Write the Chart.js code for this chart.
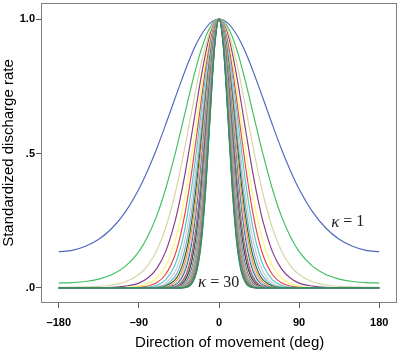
<!DOCTYPE html>
<html><head><meta charset="utf-8">
<script src="https://cdn.jsdelivr.net/npm/chart.js@4/dist/chart.umd.min.js"></script>
<style>html,body{margin:0;padding:0;background:#fff;}canvas{display:block;}</style>
</head><body>
<canvas id="c" width="400" height="354"></canvas>
<script>
// Direction of movement (deg), one half of each symmetric tuning curve
const angles = [0,5,10,15,20,25,30,35,40,45,50,60,70,80,90,105,120,135,150,165,180];
const kappas = [1,2,3,4,5,6,7,8,9,10,11,12,13,14,15,16,17,18,19,20,21,22,23,24,25,26,27,28,29,30];

// Standardized discharge rate for each kappa, at the angles above
const k01 = [1,.996,.985,.966,.941,.911,.875,.835,.791,.746,.700,.607,.518,.438,.368,.284,.223,.181,.155,.140,.135];
const k02 = [1,.992,.970,.934,.886,.829,.765,.696,.626,.557,.490,.368,.268,.192,.135,.081,.050,.033,.024,.020,.018];
const k03 = [1,.989,.955,.903,.835,.755,.669,.581,.496,.415,.342,.223,.139,.084,.050,.023,.011,.006,.004,.003,.002];
const k04 = [1,.985,.941,.873,.786,.687,.585,.485,.392,.310,.240,.135,.072,.037,.018,.007,.002,.001,.001,0,0];
const k05 = [1,.981,.927,.843,.740,.626,.512,.405,.310,.231,.168,.082,.037,.016,.007,.002,.001,0,0,0,0];
const k06 = [1,.977,.913,.815,.696,.570,.448,.338,.246,.172,.117,.050,.019,.007,.002,.001,0,0,0,0,0];
const k07 = [1,.974,.899,.788,.656,.519,.391,.282,.194,.129,.082,.030,.010,.003,.001,0,0,0,0,0,0];
const k08 = [1,.970,.886,.761,.617,.473,.342,.235,.154,.096,.057,.018,.005,.001,0,0,0,0,0,0,0];
const k09 = [1,.966,.872,.736,.581,.430,.300,.196,.122,.072,.040,.011,.003,.001,0,0,0,0,0,0,0];
const k10 = [1,.963,.859,.711,.547,.392,.262,.164,.096,.053,.028,.007,.001,0,0,0,0,0,0,0,0];
const k11 = [1,.959,.846,.687,.515,.357,.229,.137,.076,.040,.020,.004,.001,0,0,0,0,0,0,0,0];
const k12 = [1,.955,.833,.664,.485,.325,.200,.114,.060,.030,.014,.002,0,0,0,0,0,0,0,0,0];
const k13 = [1,.952,.821,.642,.457,.296,.175,.095,.048,.022,.010,.002,0,0,0,0,0,0,0,0,0];
const k14 = [1,.948,.808,.621,.430,.269,.153,.080,.038,.017,.007,.001,0,0,0,0,0,0,0,0,0];
const k15 = [1,.945,.796,.600,.405,.245,.134,.066,.030,.012,.005,.001,0,0,0,0,0,0,0,0,0];
const k16 = [1,.941,.784,.580,.381,.223,.117,.055,.024,.009,.003,0,0,0,0,0,0,0,0,0,0];
const k17 = [1,.937,.772,.560,.359,.203,.103,.046,.019,.007,.002,0,0,0,0,0,0,0,0,0,0];
const k18 = [1,.934,.761,.542,.338,.185,.090,.039,.015,.005,.002,0,0,0,0,0,0,0,0,0,0];
const k19 = [1,.930,.749,.523,.318,.169,.078,.032,.012,.004,.001,0,0,0,0,0,0,0,0,0,0];
const k20 = [1,.927,.738,.506,.299,.154,.069,.027,.009,.003,.001,0,0,0,0,0,0,0,0,0,0];
const k21 = [1,.923,.727,.489,.282,.140,.060,.022,.007,.002,.001,0,0,0,0,0,0,0,0,0,0];
const k22 = [1,.920,.716,.473,.265,.127,.052,.019,.006,.002,0,0,0,0,0,0,0,0,0,0,0];
const k23 = [1,.916,.705,.457,.250,.116,.046,.016,.005,.001,0,0,0,0,0,0,0,0,0,0,0];
const k24 = [1,.913,.694,.441,.235,.106,.040,.013,.004,.001,0,0,0,0,0,0,0,0,0,0,0];
const k25 = [1,.909,.684,.427,.221,.096,.035,.011,.003,.001,0,0,0,0,0,0,0,0,0,0,0];
const k26 = [1,.906,.674,.412,.208,.088,.031,.009,.002,0,0,0,0,0,0,0,0,0,0,0,0];
const k27 = [1,.902,.664,.399,.196,.080,.027,.008,.002,0,0,0,0,0,0,0,0,0,0,0,0];
const k28 = [1,.899,.654,.385,.185,.073,.023,.006,.001,0,0,0,0,0,0,0,0,0,0,0,0];
const k29 = [1,.896,.644,.372,.174,.066,.021,.005,.001,0,0,0,0,0,0,0,0,0,0,0,0];
const k30 = [1,.892,.634,.360,.164,.060,.018,.004,.001,0,0,0,0,0,0,0,0,0,0,0,0];

const curves = [k01,k02,k03,k04,k05,k06,k07,k08,k09,k10,k11,k12,k13,k14,k15,k16,k17,k18,k19,k20,k21,k22,k23,k24,k25,k26,k27,k28,k29,k30];

const lineColors = ['#4F67BE','#3EC05A','#D8D3A2','#863A87','#FBF873','#EF3F44','#55C6C9','#CCCCCC','#7AAAD5','#1A6A3C',
  '#F8981D','#DDBAF1','#2A6F86','#C4F2C4','#BB3F7F','#999999','#222222','#B6E7E8','#5E5C60','#F4BFB6',
  '#7D97C9','#A4D27C','#8D6B8E','#E8A86B','#6FA8A8','#B27070','#5E7B9A','#9C9C5A','#4F62B5','#2E9650'];

const xTicks = [-180,-90,0,90,180];
const xTickLabels = ['\u2013180','\u201390','0','90','180'];
const yTicks = [0,0.5,1];
const yTickLabels = ['.0','.5','1.0'];
const xTitle = 'Direction of movement (deg)';
const yTitle = 'Standardized discharge rate';
const notes = [{x:126,y:0.245,greek:'\u03ba',rest:' = 1'},{x:-23.5,y:0.019,greek:'\u03ba',rest:' = 30'}];

function mirror(vals){
  const pts=[];
  for(let i=angles.length-1;i>0;i--) pts.push({x:-angles[i],y:vals[i]});
  for(let i=0;i<angles.length;i++) pts.push({x:angles[i],y:vals[i]});
  return pts;
}

const datasets = curves.map((vals,i)=>({
  label:'\u03ba = '+kappas[i], data:mirror(vals), borderColor:lineColors[i], borderWidth:1.15,
  pointRadius:0, cubicInterpolationMode:'monotone', fill:false, order:-kappas[i]
}));

const framePlugin = {
  id:'frame',
  afterDraw(chart){
    const {ctx, chartArea:a, scales} = chart;
    ctx.save();
    ctx.strokeStyle='#7f7f7f'; ctx.lineWidth=1;
    ctx.strokeRect(Math.round(a.left)+0.5, Math.round(a.top)+0.5, Math.round(a.right-a.left)-1, Math.round(a.bottom-a.top)-1);
    // annotations
    ctx.fillStyle='#222'; ctx.textBaseline='middle'; ctx.textAlign='left';
    notes.forEach(n=>{
      const px=scales.x.getPixelForValue(n.x), py=scales.y.getPixelForValue(n.y);
      ctx.font='italic 17px "Liberation Serif"';
      ctx.fillText(n.greek,px,py);
      const w=ctx.measureText(n.greek).width;
      ctx.font='16px "Liberation Serif"';
      ctx.fillText(n.rest,px+w,py);
    });
    // x-axis title
    ctx.fillStyle='#000'; ctx.textAlign='center';
    ctx.font='15px "Liberation Sans"';
    ctx.fillText(xTitle, scales.x.getPixelForValue(12), 343);
    ctx.restore();
  }
};

new Chart(document.getElementById('c'),{
  type:'line',
  data:{datasets},
  plugins:[framePlugin],
  options:{
    responsive:false, animation:false, devicePixelRatio:1,
    layout:{padding:{top:3,right:3,left:0,bottom:0}},
    plugins:{legend:{display:false},tooltip:{enabled:false}},
    scales:{
      x:{type:'linear',min:-200,max:200,
        afterBuildTicks:s=>{s.ticks=xTicks.map(v=>({value:v}));},
        afterFit:s=>{s.height=51;s.paddingLeft=0;s.paddingRight=0;},
        grid:{drawOnChartArea:false,drawTicks:true,tickLength:5,color:'#555'},
        border:{display:false},
        ticks:{autoSkip:false,maxRotation:0,padding:8,color:'#000',font:{family:'Liberation Sans',size:11,weight:'bold'},callback:(v,i)=>xTickLabels[i]}
      },
      y:{type:'linear',min:-0.056,max:1.06,
        afterBuildTicks:s=>{s.ticks=yTicks.map(v=>({value:v}));},
        afterFit:s=>{s.width=41;s.paddingTop=0;s.paddingBottom=0;},
        grid:{drawOnChartArea:false,drawTicks:true,tickLength:5,color:'#555'},
        border:{display:false},
        ticks:{autoSkip:false,padding:1,color:'#000',font:{family:'Liberation Sans',size:11,weight:'bold'},callback:(v,i)=>yTickLabels[i]},
        title:{display:true,text:yTitle,color:'#000',font:{family:'Liberation Sans',size:15,lineHeight:1.2},padding:{top:0,bottom:0}}
      }
    }
  }
});
</script>
</body></html>
